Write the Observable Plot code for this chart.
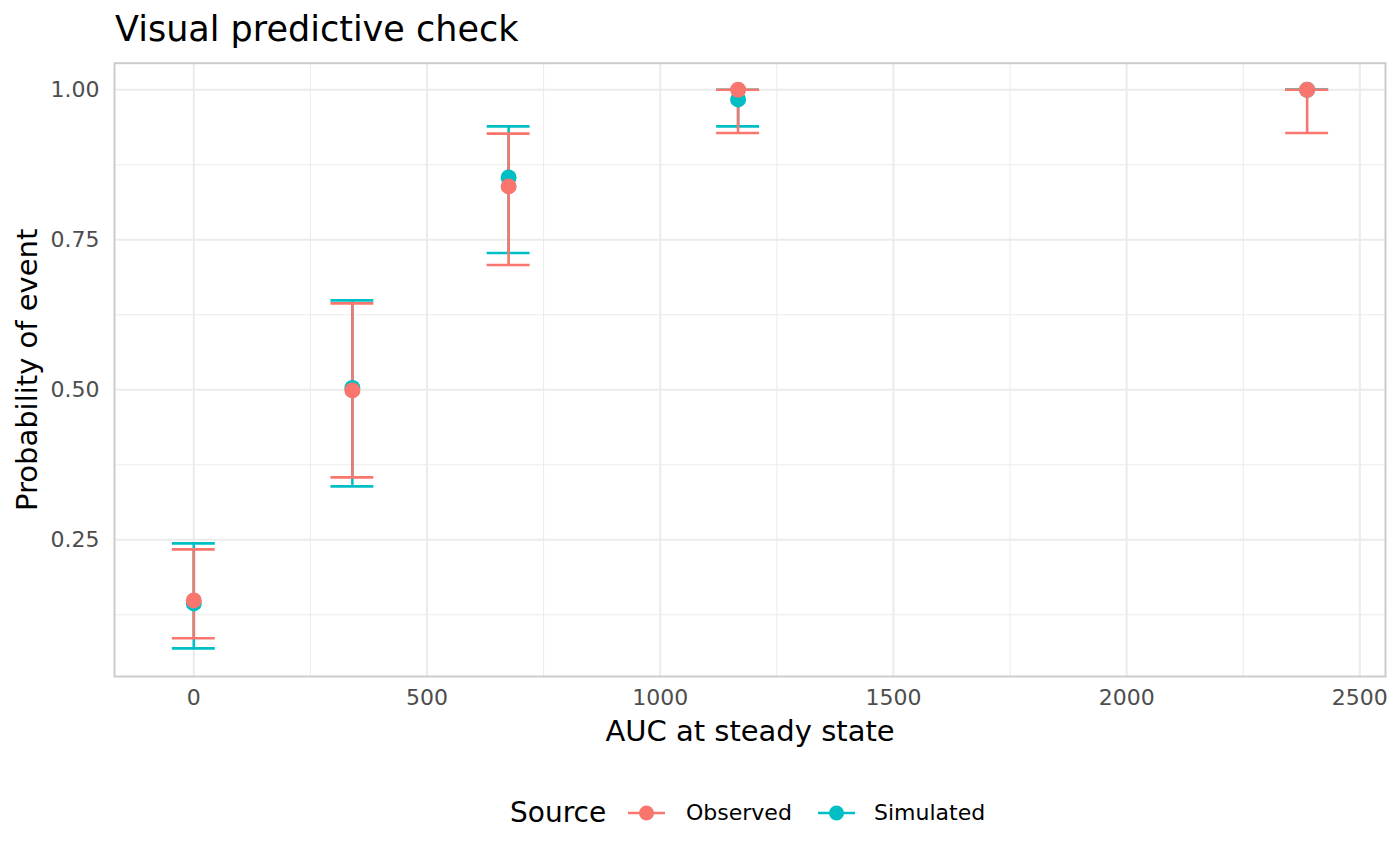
<!DOCTYPE html>
<html>
<head>
<meta charset="utf-8">
<script src="https://cdn.jsdelivr.net/npm/d3@7"></script>
<script src="https://cdn.jsdelivr.net/npm/@observablehq/plot@0.6"></script>
<style>
  html, body { margin: 0; padding: 0; background: #ffffff; }
  #wrap { position: relative; width: 1400px; height: 865px; font-family: "DejaVu Sans", sans-serif; overflow: hidden; }
  #title { position: relative; height: 50px; }
  #title span { position: absolute; left: 115px; top: 12.4px; font-size: 35px; line-height: 35px; color: #000; white-space: nowrap; }
  #legend { position: relative; height: 95px; }
  #legend .t { position: absolute; white-space: nowrap; }
  #legend svg { position: absolute; }
  #chart svg { display: block; }
</style>
</head>
<body>
<div id="wrap">
  <div id="title"><span>Visual predictive check</span></div>
  <div id="chart"></div>
  <div id="legend"></div>
</div>
<script>
// ---- data ----
const auc       = [0, 340, 675, 1167, 2387];
const obsMedian = [0.149, 0.499, 0.839, 1.000, 1.000];
const obsLower  = [0.086, 0.354, 0.708, 0.928, 0.928];
const obsUpper  = [0.234, 0.644, 0.927, 1.000, 1.000];
const simMedian = [0.144, 0.503, 0.854, 0.984, 1.000];
const simLower  = [0.069, 0.339, 0.728, 0.939, 1.000];
const simUpper  = [0.244, 0.649, 0.939, 1.000, 1.000];
const sources   = ["Observed", "Simulated"];
const colors    = ["#F8766D", "#00BFC4"];
const xTicks    = [0, 500, 1000, 1500, 2000, 2500];
const xMinor    = [250, 750, 1250, 1750, 2250];
const yTicks    = [0.25, 0.50, 0.75, 1.00];
const yMinor    = [0.125, 0.375, 0.625, 0.875];
const capHalf   = 46; // half width of error-bar caps, in AUC units

const simRows = auc.map((x, i) => ({source: "Simulated", x, med: simMedian[i], lo: simLower[i], hi: simUpper[i]}));
const obsRows = auc.map((x, i) => ({source: "Observed",  x, med: obsMedian[i], lo: obsLower[i], hi: obsUpper[i]}));

const sw = 2.6;
function barMarks(rows) {
  return [
    Plot.ruleX(rows, {x: "x", y1: "lo", y2: "hi", stroke: "source", strokeWidth: sw}),
    Plot.ruleY(rows, {y: "lo", x1: d => d.x - capHalf, x2: d => d.x + capHalf, stroke: "source", strokeWidth: sw}),
    Plot.ruleY(rows, {y: "hi", x1: d => d.x - capHalf, x2: d => d.x + capHalf, stroke: "source", strokeWidth: sw})
  ];
}

const plot = Plot.plot({
  width: 1400,
  height: 720,
  marginLeft: 114,
  marginRight: 15,
  marginTop: 12.7,
  marginBottom: 94,
  style: {fontFamily: "DejaVu Sans, sans-serif", background: "#ffffff"},
  x: {domain: [-170, 2555], axis: null},
  y: {domain: [0.0222, 1.0443], axis: null},
  color: {domain: sources, range: colors},
  marks: [
    Plot.ruleY(yMinor, {stroke: "#ebebeb", strokeWidth: 1}),
    Plot.ruleX(xMinor, {stroke: "#ebebeb", strokeWidth: 1}),
    Plot.ruleY(yTicks, {stroke: "#ebebeb", strokeWidth: 2}),
    Plot.ruleX(xTicks, {stroke: "#ebebeb", strokeWidth: 2}),
    Plot.frame({stroke: "#cccccc", strokeWidth: 2}),
    Plot.axisX(xTicks, {tickSize: 0, tickPadding: 13, fontSize: 22, color: "#4d4d4d", tickFormat: d3.format("d"), label: null}),
    Plot.axisY(yTicks, {tickSize: 0, tickPadding: 15, fontSize: 22, color: "#4d4d4d", tickFormat: d3.format(".2f"), label: null}),
    Plot.text(["AUC at steady state"], {frameAnchor: "bottom", lineAnchor: "middle", textAnchor: "middle", dy: 55, fontSize: 29, fill: "#000"}),
    Plot.text(["Probability of event"], {frameAnchor: "left", lineAnchor: "middle", textAnchor: "middle", dx: -87, rotate: -90, fontSize: 29, fill: "#000"}),
    ...barMarks(simRows),
    ...barMarks(obsRows),
    Plot.dot(simRows, {x: "x", y: "med", fill: "source", r: 8}),
    Plot.dot(obsRows, {x: "x", y: "med", fill: "source", r: 8})
  ]
});
document.getElementById("chart").appendChild(plot);

// ---- legend ----
const legend = document.getElementById("legend");
const lt = document.createElement("div");
lt.className = "t";
lt.textContent = "Source";
lt.style.cssText = "left:510px;top:29px;font-size:28px;line-height:28px;color:#000;";
legend.appendChild(lt);
const keyLeft = [626, 816];
const labelLeft = [686, 874];
sources.forEach((s, i) => {
  const ns = "http://www.w3.org/2000/svg";
  const svg = document.createElementNS(ns, "svg");
  svg.setAttribute("width", 41);
  svg.setAttribute("height", 18);
  svg.style.left = keyLeft[i] + "px";
  svg.style.top = "34.3px";
  const line = document.createElementNS(ns, "line");
  line.setAttribute("x1", 2); line.setAttribute("x2", 39);
  line.setAttribute("y1", 9); line.setAttribute("y2", 9);
  line.setAttribute("stroke", colors[i]); line.setAttribute("stroke-width", sw);
  const c = document.createElementNS(ns, "circle");
  c.setAttribute("cx", 20.5); c.setAttribute("cy", 9); c.setAttribute("r", 7.5);
  c.setAttribute("fill", colors[i]);
  svg.appendChild(line); svg.appendChild(c);
  legend.appendChild(svg);
  const t = document.createElement("div");
  t.className = "t";
  t.textContent = s;
  t.style.cssText = `left:${labelLeft[i]}px;top:32.4px;font-size:22px;line-height:22px;color:#000;`;
  legend.appendChild(t);
});
</script>
</body>
</html>
